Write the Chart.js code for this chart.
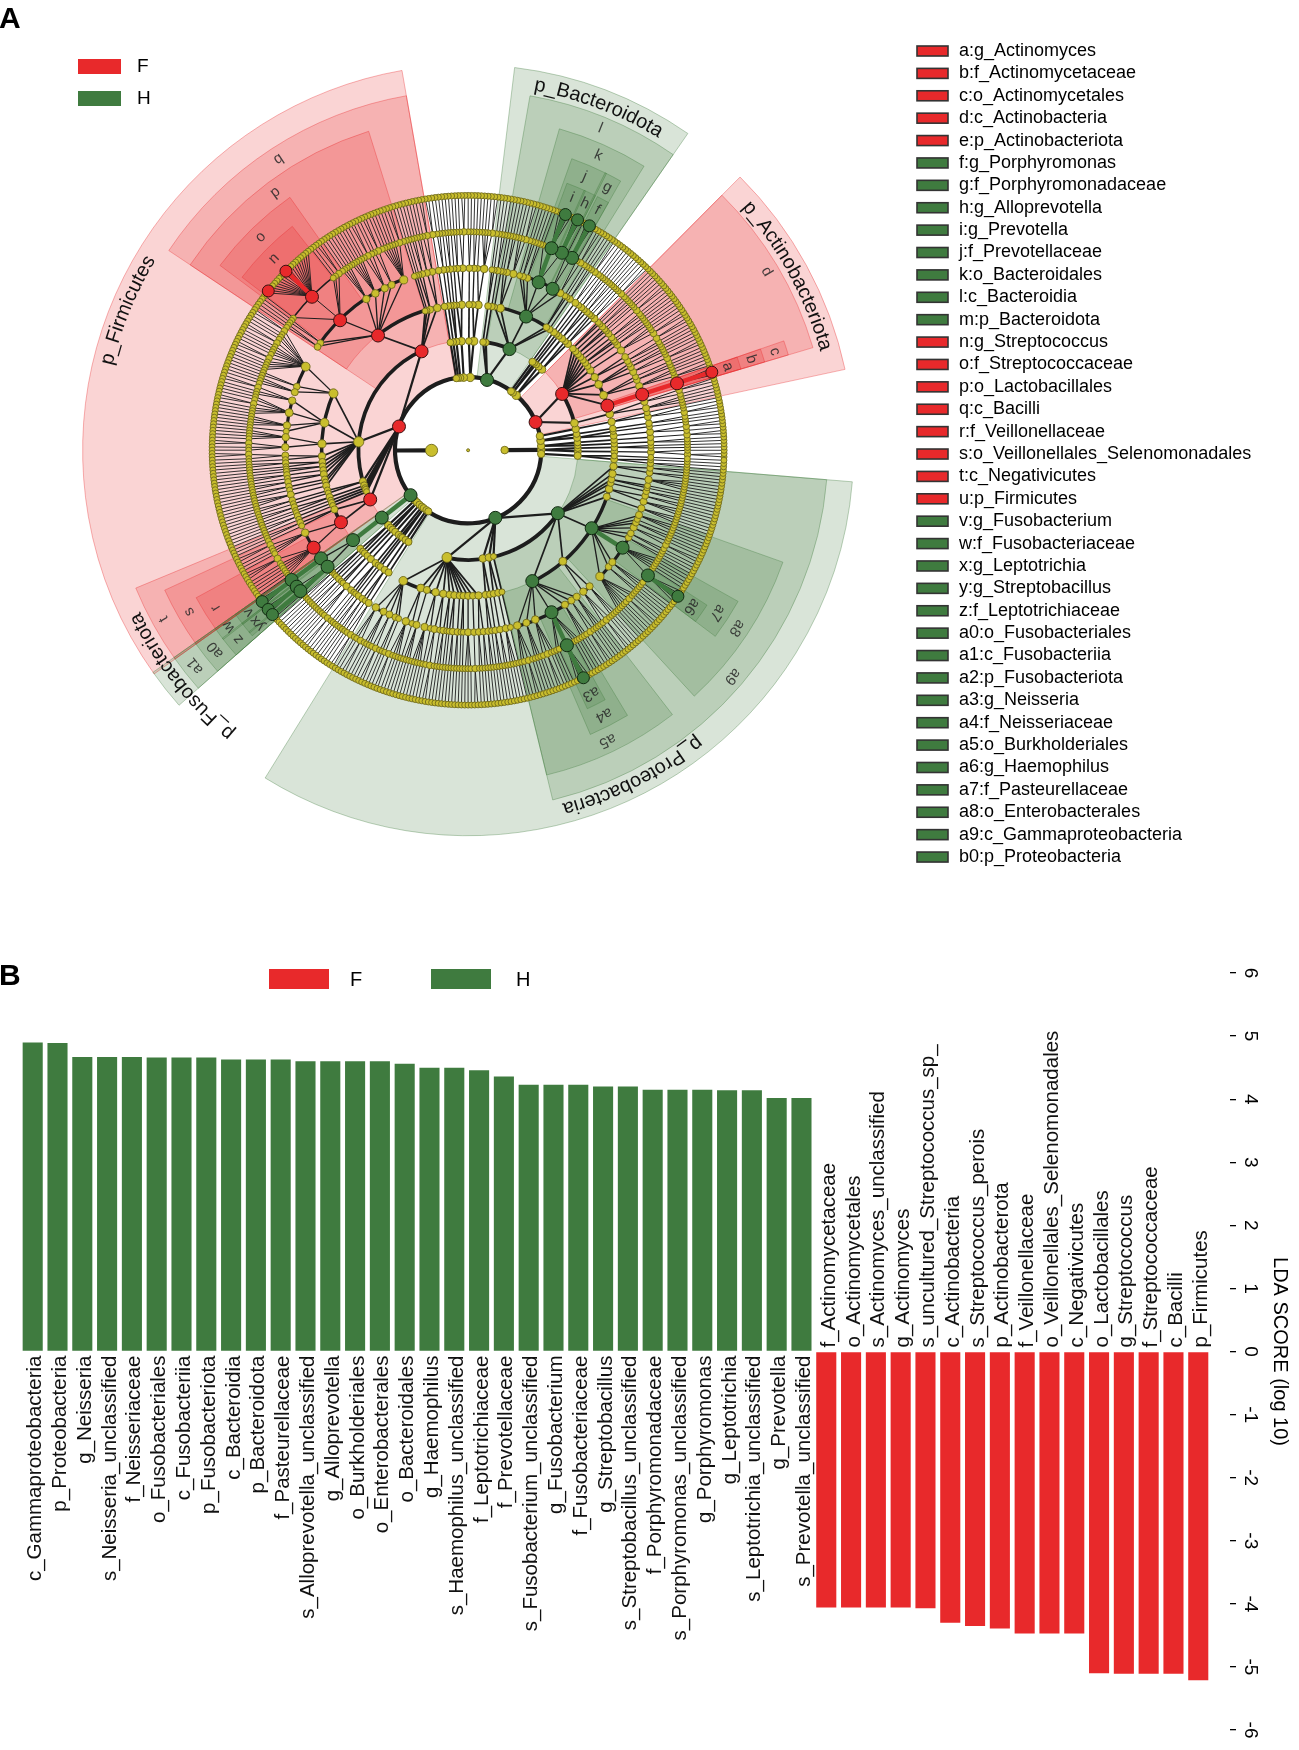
<!DOCTYPE html>
<html><head><meta charset="utf-8">
<script src="https://cdn.jsdelivr.net/npm/chart.js@4.4.1/dist/chart.umd.min.js"></script>
<style>
html,body{margin:0;padding:0;background:#fff;}
#wrap{position:relative;width:1299px;height:1750px;background:#fff;}
#cA{position:absolute;left:0;top:0;}
#cB{position:absolute;left:0;top:930px;}
</style></head><body>
<div id="wrap"><canvas id="cA" width="1299" height="930"></canvas><canvas id="cB" width="1299" height="820"></canvas></div>
<script>
// ---------------- DATA: panel B (LDA scores) ----------------
const hLabels = ["c_Gammaproteobacteria","p_Proteobacteria","g_Neisseria","s_Neisseria_unclassified","f_Neisseriaceae","o_Fusobacteriales","c_Fusobacteriia","p_Fusobacteriota","c_Bacteroidia","p_Bacteroidota","f_Pasteurellaceae","s_Alloprevotella_unclassified","g_Alloprevotella","o_Burkholderiales","o_Enterobacterales","o_Bacteroidales","g_Haemophilus","s_Haemophilus_unclassified","f_Leptotrichiaceae","f_Prevotellaceae","s_Fusobacterium_unclassified","g_Fusobacterium","f_Fusobacteriaceae","g_Streptobacillus","s_Streptobacillus_unclassified","f_Porphyromonadaceae","s_Porphyromonas_unclassified","g_Porphyromonas","g_Leptotrichia","s_Leptotrichia_unclassified","g_Prevotella","s_Prevotella_unclassified"];
const hScores = [4.90,4.89,4.67,4.67,4.67,4.66,4.66,4.66,4.63,4.63,4.63,4.60,4.60,4.60,4.60,4.56,4.50,4.50,4.46,4.36,4.23,4.23,4.23,4.20,4.20,4.15,4.15,4.15,4.14,4.14,4.02,4.02];
const fLabels = ["f_Actinomycetaceae","o_Actinomycetales","s_Actinomyces_unclassified","g_Actinomyces","s_uncultured_Streptococcus_sp_","c_Actinobacteria","s_Streptococcus_perois","p_Actinobacterota","f_Veillonellaceae","o_Veillonellales_Selenomonadales","c_Negativicutes","o_Lactobacillales","g_Streptococcus","f_Streptococcaceae","c_Bacilli","p_Firmicutes"];
const fScores = [-4.06,-4.06,-4.06,-4.06,-4.07,-4.30,-4.35,-4.39,-4.47,-4.47,-4.47,-5.10,-5.11,-5.11,-5.11,-5.21];
const ldaTicks = [-6,-5,-4,-3,-2,-1,0,1,2,3,4,5,6];
const groupNames = ["F","H"];

// ---------------- DATA: panel A (cladogram) ----------------
const cladeLetters = ["a","b","c","d","e","f","g","h","i","j","k","l","m","n","o","p","q","r","s","t","u","v","w","x","y","z","a0","a1","a2","a3","a4","a5","a6","a7","a8","a9","b0"];
const cladeTaxa = ["g_Actinomyces","f_Actinomycetaceae","o_Actinomycetales","c_Actinobacteria","p_Actinobacteriota","g_Porphyromonas","f_Porphyromonadaceae","g_Alloprevotella","g_Prevotella","f_Prevotellaceae","o_Bacteroidales","c_Bacteroidia","p_Bacteroidota","g_Streptococcus","f_Streptococcaceae","o_Lactobacillales","c_Bacilli","f_Veillonellaceae","o_Veillonellales_Selenomonadales","c_Negativicutes","p_Firmicutes","g_Fusobacterium","f_Fusobacteriaceae","g_Leptotrichia","g_Streptobacillus","f_Leptotrichiaceae","o_Fusobacteriales","c_Fusobacteriia","p_Fusobacteriota","g_Neisseria","f_Neisseriaceae","o_Burkholderiales","g_Haemophilus","f_Pasteurellaceae","o_Enterobacterales","c_Gammaproteobacteria","p_Proteobacteria"];
const cladeGroup = ["F","F","F","F","F","H","H","H","H","H","H","H","H","F","F","F","F","F","F","F","F","H","H","H","H","H","H","H","H","H","H","H","H","H","H","H","H"];

const markerSpecies = ["s_Actinomyces_unclassified","s_uncultured_Streptococcus_sp_","s_Streptococcus_perois","s_Porphyromonas_unclassified","s_Alloprevotella_unclassified","s_Prevotella_unclassified","s_Fusobacterium_unclassified","s_Leptotrichia_unclassified","s_Streptobacillus_unclassified","s_Neisseria_unclassified","s_Haemophilus_unclassified"];
const markerGenus = ["g_Actinomyces","g_Streptococcus","g_Streptococcus","g_Porphyromonas","g_Alloprevotella","g_Prevotella","g_Fusobacterium","g_Leptotrichia","g_Streptobacillus","g_Neisseria","g_Haemophilus"];
const markerLeaf = [1,9,17,1,1,2,1,1,0,2,2];
const markerGroup = ["F","F","F","H","H","H","H","H","H","H","H"];

// Tree (angular order). Nested: phylum > class > order > family > genus.
// A number at genus level = unnamed genus with that many species; ["g_Name", n] = named genus.
const phEuryarchaeota = ["p_Euryarchaeota", ["c_Methanobacteria", ["o_Methanobacteriales", ["f_Methanobacteriaceae", 2, 1]]], ["c_Thermoplasmata", ["o_Methanomassiliicoccales", [1], [1]]]];
const phChloroflexi = ["p_Chloroflexi", [[[1,1]]], [[[2]]]];
const phDesulfobacterota = ["p_Desulfobacterota", [[[1,2]],[[1]]], [[[1,1]]]];
const phSynergistota = ["p_Synergistota", [[[2,1],[1]]]];
const phActinobacteriota = ["p_Actinobacteriota",
  ["c_Coriobacteriia", ["o_Coriobacteriales", [1,1,1], [1,2]]],
  ["c_Actinobacteria",
    ["o_Actinomycetales", ["f_Actinomycetaceae", ["g_Actinomyces",3]]],
    [[2,1,1],[1,1],[1]], [[2,1],[1,1],[1]], [[1,1],[2]], [[2,1,1]],
    [[1,1]], [[1],[1]], [[1,1]], [[2]], [[1],[1]], [[1,1]], [[1],[1]]]];
const phPatescibacteria = ["p_Patescibacteria", [[[2,1],[1]],[[1]]], [[[1,1],[1]]]];
const phCyanobacteria = ["p_Cyanobacteria", [[[1,1]]], [[[1]]]];
const phDeinococcota = ["p_Deinococcota", [[[1,2]]]];
const phBacteroidota = ["p_Bacteroidota",
  ["c_Bacteroidia",
    [[1,1]], [[1],[1]],
    ["o_Bacteroidales", [2,1], ["f_Porphyromonadaceae", ["g_Porphyromonas",3], 1], ["f_Prevotellaceae", ["g_Alloprevotella",3], ["g_Prevotella",5], 1], [1,1], [1,1], [1]],
    [[2,1,1],[1,1],[1]], [[1]]],
  [[[1,1]]], [[[1],[1]]]];
const phSpirochaetota = ["p_Spirochaetota", [[[2,1,1,1],[1]],[[1,1]]], [[[1,1]]]];
const phCampilobacterota = ["p_Campilobacterota", [[[2,1],[1,1]],[[1]]]];
const phVerrucomicrobiota = ["p_Verrucomicrobiota", [[[1,1]],[[1]]]];
const phGemmatimonadota = ["p_Gemmatimonadota", [[[1,1]]]];
const phElusimicrobiota = ["p_Elusimicrobiota", [[[2]]]];
const phFirmicutes = ["p_Firmicutes",
  ["c_Bacilli",
    [[2,1],[1,1]], [[1,1],[1]], [[1]], [[1]],
    ["o_Lactobacillales", [2,1,1,1,1,1,1], [2,1], [1,2,1], [1,1,1,1,1], [1,1,1,1],
      ["f_Streptococcaceae", 2, 1, 1, ["g_Streptococcus",19], 1], [1,1], [1,1]]],
  ["c_Clostridia",
    [[2,1,1,1,2,1,1,1,1,2,1,1,1,1],[1,1],[1,1,1]],
    [[2,1,1],[1,1,2,1,1,1],[1,1,1,1],[1]],
    [[1,1,1,1],[2,1,1]], [[2,1],[1]], [[1,1],[1]], [[1],[1]], [[1,1]], [[1],[1,1]], [[1,1]], [[1]], [[1,1,1]]],
  [[[1,1]],[[1]]], [[[1,1],[1]]], [[[1]]], [[[1,1]]], [[[1]]],
  ["c_Negativicutes",
    [[1,1],[1]],
    ["o_Veillonellales_Selenomonadales", [2,1,1,1], ["f_Veillonellaceae", 3, 1, 1, 1, 1, 1, 1]]]];
const phFusobacteriota = ["p_Fusobacteriota", ["c_Fusobacteriia", ["o_Fusobacteriales", ["f_Fusobacteriaceae", ["g_Fusobacterium",3]], ["f_Leptotrichiaceae", ["g_Leptotrichia",3], ["g_Streptobacillus",1], 1]]]];
const phPlanctomycetota = ["p_Planctomycetota", [[[1,1],[1]],[[1]]]];
const phAcidobacteriota = ["p_Acidobacteriota", [[[1,1]]], [[[1],[1]]]];
const phMyxococcota = ["p_Myxococcota", [[[1,1,1]]]];
const phNitrospirota = ["p_Nitrospirota", [[[2],[1]]]];
const phArmatimonadota = ["p_Armatimonadota", [[[1]]], [[[1,1]]]];
const phFibrobacterota = ["p_Fibrobacterota", [[[1,1],[1]]]];
const phDependentiae = ["p_Dependentiae", [[[1,2]]]];
const phProteobacteria = ["p_Proteobacteria",
  ["c_Alphaproteobacteria",
    [[1,1,2],[1,1,1],[1,2],[1,1],[1]], [[2,1,1,1],[1]], [[1,1,1]], [[1,1,1,1],[1]], [[1,2],[1]], [[1,1],[1]],
    [[1],[1,1]], [[1,1]], [[1],[1]], [[1,1,1]], [[2]], [[1,1],[1,1]]],
  [[[1,1],[1]],[[1,1]]], [[[1,1]],[[1,1,1]]], [[[1]]],
  ["c_Gammaproteobacteria",
    ["o_Burkholderiales", [1,1,2,1], [1,1,1], [1,2,1,1], ["f_Neisseriaceae", 1, 1, ["g_Neisseria",5], 1, 1, 1], [1,1,1], [2,1], [1,1,1]],
    [[1,2,1],[1,1,1]],
    ["o_Enterobacterales", [1,1,1,1,1,2,1,1], [1,1], [1,1,1], ["f_Pasteurellaceae", ["g_Haemophilus",5], 1, 1, 1, 1, 1], [1,1], [1,1], [2,1], [1,1], [1], [1,1,1]],
    [[1,1,1]], [[1,1,1],[1,1]], [[1,1]], [[1],[1]], [[1,1,1,1]], [[1,1],[1,1]]]];
const phBdellovibrionota = ["p_Bdellovibrionota", [[[1,1],[1]],[[1]]]];
const archaeaPhyla = [phEuryarchaeota];
const bacteriaPhyla = [phChloroflexi, phDesulfobacterota, phSynergistota, phActinobacteriota, phPatescibacteria, phCyanobacteria, phDeinococcota, phBacteroidota, phSpirochaetota, phCampilobacterota, phVerrucomicrobiota, phGemmatimonadota, phElusimicrobiota, phFirmicutes, phFusobacteriota, phPlanctomycetota, phAcidobacteriota, phMyxococcota, phNitrospirota, phArmatimonadota, phFibrobacterota, phDependentiae, phProteobacteria, phBdellovibrionota];

// ---------------- styling / layout constants ----------------
const FONT = '"Liberation Sans", Arial, Helvetica, sans-serif';
const COL = {F:'#e8292b', H:'#3f7b3f'};
const SECT_FILL = {F:'rgba(232,40,42,0.20)', H:'rgba(63,122,61,0.20)'};
const SECT_EDGE = {F:'rgba(232,40,42,0.35)', H:'rgba(63,122,61,0.35)'};
const ringR = [0,37,74,111,148,185,222,259];
const bandOuter = {2:390,3:364,4:338,5:313,6:288};
const arcW = [0,0,4.2,3.8,3.5,3.2,1.6,0];
const segW = [0,0,3.0,2.2,1.7,1.3,1.0,0.9];
const startAngle = -1.5;
Chart.defaults.font.family = FONT;
Chart.defaults.color = '#000';
const rad = d => d*Math.PI/180;

// ---------------- build the taxonomy tree ----------------
const byName = {};
let autoId = 0;
function mk(name, level, parent){ const n = {name, level, children:[], parent}; if (parent) parent.children.push(n); byName[name] = n; return n; }
function buildNode(spec, level, parent){
  if (level === 6) {
    const named = Array.isArray(spec);
    const g = mk(named ? spec[0] : 'g_' + (autoId++), 6, parent);
    const ns = named ? spec[1] : spec;
    for (let s = 0; s < ns; s++) mk(g.name + '#' + s, 7, g);
    return g;
  }
  const named = typeof spec[0] === 'string';
  const n = mk(named ? spec[0] : '_' + level + '_' + (autoId++), level, parent);
  (named ? spec.slice(1) : spec).forEach(k => buildNode(k, level + 1, n));
  return n;
}
const root = mk('root', 0, null);
const kA = mk('k_Archaea', 1, root); archaeaPhyla.forEach(p => buildNode(p, 2, kA));
const kB = mk('k_Bacteria', 1, root); bacteriaPhyla.forEach(p => buildNode(p, 2, kB));
const allNodes = [], leaves = [];
(function walk(n){ allNodes.push(n); if (!n.children.length) leaves.push(n); n.children.forEach(walk); })(root);
const step = 360/leaves.length;
leaves.forEach((l,i) => { l.th = startAngle + i*step; l.thMin = l.th; l.thMax = l.th; l.count = 1; });
(function post(n){
  if (!n.children.length) return;
  n.children.forEach(post);
  const f = n.children[0], z = n.children[n.children.length-1];
  n.thMin = f.thMin; n.thMax = z.thMax; n.th = (f.th + z.th)/2;
  n.count = n.children.reduce((s,c) => s + c.count, 0);
})(root);
cladeTaxa.forEach((t,i) => { const n = byName[t]; if (n) { n.group = cladeGroup[i]; n.letter = cladeLetters[i]; } });
markerGenus.forEach((g,i) => { const n = byName[g]; if (n && n.children[markerLeaf[i]]) { const s = n.children[markerLeaf[i]]; s.group = markerGroup[i]; s.label = markerSpecies[i]; } });

function nodeRadius(n){
  if (n.level === 0) return 1.5;
  if (n.group) return n.level === 7 ? 6.0 : 6.5;
  return n.children.length ? 3.0 + 0.5*Math.log(n.count) : 3.0;
}
const pts = {F:[], H:[], Y:[]}, rads = {F:[], H:[], Y:[]};
allNodes.forEach(n => {
  const r = ringR[n.level], a = rad(n.th || 0);
  const key = n.group || 'Y';
  pts[key].push({x: r*Math.cos(a), y: r*Math.sin(a)});
  rads[key].push(nodeRadius(n));
});

// ---------------- cladogram drawing ----------------
function arcText(ctx, text, cx, cy, rPx, thMidDeg){
  const chars = [...text];
  const ws = chars.map(ch => ctx.measureText(ch).width);
  const total = ws.reduce((a,b) => a+b, 0);
  let a = rad(thMidDeg) + (total/2)/rPx;
  chars.forEach((ch,i) => {
    const ac = a - (ws[i]/2)/rPx;
    ctx.save();
    ctx.translate(cx + rPx*Math.cos(ac), cy - rPx*Math.sin(ac));
    ctx.rotate(Math.PI/2 - ac);
    ctx.fillText(ch, 0, 0);
    ctx.restore();
    a -= ws[i]/rPx;
  });
}

const cladoPlugin = {
  id: 'clado',
  beforeDatasetsDraw(chart){
    const ctx = chart.ctx, xs = chart.scales.x, ys = chart.scales.y;
    const cx = xs.getPixelForValue(0), cy = ys.getPixelForValue(0), k = xs.getPixelForValue(1) - cx;
    const P = (r, th) => [cx + r*k*Math.cos(rad(th)), cy - r*k*Math.sin(rad(th))];
    ctx.save();
    allNodes.filter(n => n.group && n.level >= 2 && n.level <= 6)
      .sort((a,b) => a.level - b.level)
      .forEach(n => {
        const a1 = rad(n.thMin - step/2 - 0.15), a2 = rad(n.thMax + step/2 + 0.15);
        const rIn = ringR[n.level]*k, rOut = bandOuter[n.level]*k;
        ctx.beginPath();
        ctx.arc(cx, cy, rOut, -a1, -a2, true);
        ctx.arc(cx, cy, rIn, -a2, -a1, false);
        ctx.closePath();
        ctx.fillStyle = SECT_FILL[n.group]; ctx.fill();
        ctx.strokeStyle = SECT_EDGE[n.group]; ctx.lineWidth = 1; ctx.stroke();
      });
    const colored = [];
    ctx.strokeStyle = '#1d1d1d';
    allNodes.forEach(n => {
      if (n.level === 0 || !n.children.length) return;
      const lc = n.level + 1;
      const f = n.children[0], z = n.children[n.children.length-1];
      if (n.children.length > 1 && arcW[lc] > 0) {
        ctx.lineWidth = arcW[lc];
        ctx.beginPath(); ctx.arc(cx, cy, ringR[lc]*k, -rad(f.th), -rad(z.th), true); ctx.stroke();
      }
      if (n.level === 1) {
        const p0 = P(ringR[1], n.th), p1 = P(ringR[2], n.th);
        ctx.lineWidth = arcW[2];
        ctx.beginPath(); ctx.moveTo(p0[0], p0[1]); ctx.lineTo(p1[0], p1[1]); ctx.stroke();
        return;
      }
      n.children.forEach(c => {
        const p0 = P(ringR[n.level], n.th), p1 = P(ringR[lc], c.th);
        if (n.group && c.group === n.group && Math.abs(c.th - n.th) < 0.5) { colored.push([p0, p1, n.group]); return; }
        ctx.lineWidth = segW[lc];
        ctx.beginPath(); ctx.moveTo(p0[0], p0[1]); ctx.lineTo(p1[0], p1[1]); ctx.stroke();
      });
    });
    colored.forEach(([p0, p1, g]) => {
      ctx.strokeStyle = COL[g]; ctx.lineWidth = 4.5;
      ctx.beginPath(); ctx.moveTo(p0[0], p0[1]); ctx.lineTo(p1[0], p1[1]); ctx.stroke();
    });
    ctx.restore();
  },
  afterDatasetsDraw(chart){
    const ctx = chart.ctx, xs = chart.scales.x, ys = chart.scales.y;
    const cx = xs.getPixelForValue(0), cy = ys.getPixelForValue(0), k = xs.getPixelForValue(1) - cx;
    ctx.save();
    ctx.textAlign = 'center';
    allNodes.filter(n => n.group && n.level >= 2 && n.level <= 6).forEach(n => {
      const mid = (n.thMin + n.thMax)/2;
      if (n.level === 2) {
        ctx.font = '20px ' + FONT; ctx.fillStyle = '#111'; ctx.textBaseline = 'alphabetic';
        arcText(ctx, n.name, cx, cy, 370*k, mid);
      } else {
        ctx.font = '15px ' + FONT; ctx.fillStyle = 'rgba(40,40,40,0.85)'; ctx.textBaseline = 'middle';
        arcText(ctx, n.letter, cx, cy, (bandOuter[n.level] - 12)*k, mid);
      }
    });
    ctx.textAlign = 'left'; ctx.textBaseline = 'alphabetic'; ctx.fillStyle = '#000';
    ctx.font = 'bold 30px ' + FONT; ctx.fillText('A', -1, 28);
    ctx.font = '19px ' + FONT; ctx.textBaseline = 'middle';
    groupNames.forEach((g,i) => {
      const y = 59 + i*32;
      ctx.fillStyle = COL[g]; ctx.fillRect(78, y, 43, 15);
      ctx.fillStyle = '#000'; ctx.fillText(g, 137, y + 8);
    });
    ctx.font = '18px ' + FONT;
    cladeLetters.forEach((l,i) => {
      const y = 51 + i*22.39;
      ctx.fillStyle = COL[cladeGroup[i]]; ctx.fillRect(917, y - 5, 31, 10);
      ctx.strokeStyle = '#333'; ctx.lineWidth = 1.6; ctx.strokeRect(917, y - 5, 31, 10);
      ctx.fillStyle = '#000'; ctx.fillText(l + ':' + cladeTaxa[i], 959, y);
    });
    ctx.restore();
  }
};

new Chart(document.getElementById('cA'), {
  type: 'scatter',
  data: { datasets: [
    {label:'F nodes', data: pts.F, pointRadius: rads.F, pointBackgroundColor: COL.F, pointBorderColor: '#3a1010', pointBorderWidth: 1},
    {label:'H nodes', data: pts.H, pointRadius: rads.H, pointBackgroundColor: COL.H, pointBorderColor: '#112a11', pointBorderWidth: 1},
    {label:'other', data: pts.Y, pointRadius: rads.Y, pointBackgroundColor: '#c9be2d', pointBorderColor: '#6f6a1c', pointBorderWidth: 0.9}
  ]},
  options: {
    responsive: false, animation: false, events: [],
    layout: {padding: 0},
    plugins: {legend: {display:false}, tooltip: {enabled:false}},
    scales: {
      x: {type:'linear', min:-466, max:833, display:false},
      y: {type:'linear', min:-480, max:450, display:false}
    }
  },
  plugins: [cladoPlugin]
});

// ---------------- panel B ----------------
const allLabels = hLabels.concat(fLabels);
const allScores = hScores.concat(fScores);
const ldaPlugin = {
  id: 'lda',
  afterDatasetsDraw(chart){
    const {ctx} = chart, xs = chart.scales.x, ys = chart.scales.y;
    const y0 = ys.getPixelForValue(0);
    ctx.save();
    ctx.font = '20.5px ' + FONT; ctx.fillStyle = '#111'; ctx.textBaseline = 'alphabetic';
    allLabels.forEach((lab,i) => {
      const pos = allScores[i] >= 0;
      ctx.save();
      ctx.translate(xs.getPixelForValue(i) + 8.5, pos ? y0 + 4 : y0 - 4);
      ctx.rotate(-Math.PI/2);
      ctx.textAlign = pos ? 'right' : 'left';
      ctx.fillText(lab, 0, 0);
      ctx.restore();
    });
    ctx.textAlign = 'left';
    ctx.fillStyle = '#000'; ctx.font = 'bold 30px ' + FONT; ctx.fillText('B', -1, 55);
    ctx.font = '20px ' + FONT; ctx.textBaseline = 'middle';
    [['F',269,350],['H',431,516]].forEach(([g,bx,tx]) => {
      ctx.fillStyle = COL[g]; ctx.fillRect(bx, 39, 60, 20);
      ctx.fillStyle = '#000'; ctx.fillText(g, tx, 50);
    });
    ctx.restore();
  }
};

new Chart(document.getElementById('cB'), {
  type: 'bar',
  data: { datasets: [
    {label:'H', data: hScores.map((v,i) => ({x:i, y:v})), backgroundColor: COL.H, grouped:false, barPercentage:0.81, categoryPercentage:1},
    {label:'F', data: fScores.map((v,i) => ({x:hScores.length + i, y:v})), backgroundColor: COL.F, grouped:false, barPercentage:0.81, categoryPercentage:1}
  ]},
  options: {
    responsive: false, animation: false, events: [],
    layout: {padding: {left:20.3, right:0, top:43, bottom:20}},
    plugins: {legend: {display:false}, tooltip: {enabled:false}},
    scales: {
      x: {type:'linear', min:-0.5, max:48.28, display:false, offset:false},
      y: {
        position:'right', min:-6, max:6,
        afterBuildTicks: s => { s.ticks = ldaTicks.map(v => ({value:v})); },
        afterFit: s => { s.width = 69; },
        grid: {drawOnChartArea:false, drawTicks:true, tickLength:6, color:'#000', lineWidth:1.3},
        border: {display:false},
        ticks: {font:{size:19}, color:'#000', minRotation:-90, crossAlign:'center', padding:6},
        title: {display:true, text:'LDA SCORE (log 10)', font:{size:20}, color:'#000', padding:{top:7, bottom:0}}
      }
    }
  },
  plugins: [ldaPlugin]
});
</script></body></html>
